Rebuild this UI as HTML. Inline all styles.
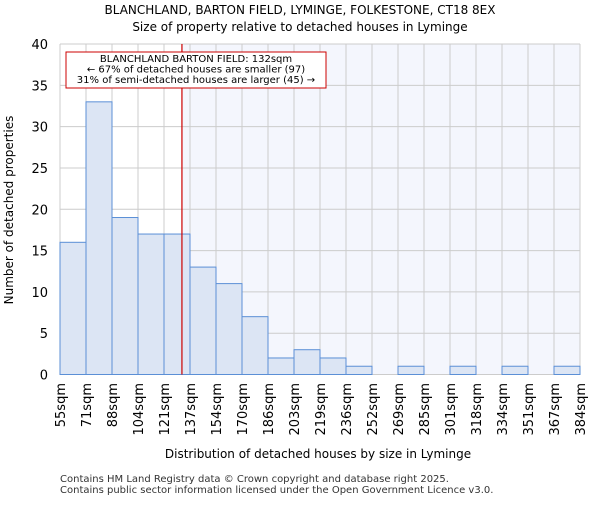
<!DOCTYPE html>
<html><head><meta charset="utf-8"><style>
body{margin:0;background:#fff;}
svg{font-family:"DejaVu Sans","Liberation Sans",sans-serif;}
</style></head><body>
<svg id="c" width="600" height="500" xmlns="http://www.w3.org/2000/svg">
<text x="300" y="14" text-anchor="middle" font-size="12">BLANCHLAND, BARTON FIELD, LYMINGE, FOLKESTONE, CT18 8EX</text>
<text x="300" y="31" text-anchor="middle" font-size="12">Size of property relative to detached houses in Lyminge</text>
<g id="plot"></g>
<text x="318" y="458" text-anchor="middle" font-size="12">Distribution of detached houses by size in Lyminge</text>
<text transform="translate(13,210) rotate(-90)" text-anchor="middle" font-size="12">Number of detached properties</text>
<text x="60" y="482" font-size="10" fill="#333">Contains HM Land Registry data © Crown copyright and database right 2025.</text>
<text x="60" y="493" font-size="10" fill="#333">Contains public sector information licensed under the Open Government Licence v3.0.</text>
</svg>
<script>
const categories=["55sqm","71sqm","88sqm","104sqm","121sqm","137sqm","154sqm","170sqm","186sqm","203sqm","219sqm","236sqm","252sqm","269sqm","285sqm","301sqm","318sqm","334sqm","351sqm","367sqm","384sqm"];
const counts=[16,33,19,17,17,13,11,7,2,3,2,1,0,1,0,1,0,1,0,1];
const yTicks=[0,5,10,15,20,25,30,35,40];
const markerBin=4.69;
const NS="http://www.w3.org/2000/svg";
const L=60,R=580,T=44,B=374.5,yMax=40;
const n=counts.length,bw=(R-L)/n;
const x=i=>L+i*bw, y=v=>B-(v/yMax)*(B-T);
const g=document.getElementById('plot');
function mk(t,a){const e=document.createElementNS(NS,t);for(const k in a)e.setAttribute(k,a[k]);g.appendChild(e);return e;}
const mx=x(markerBin);
let e=mk('rect',{x:mx,y:T,width:R-mx,height:B-T,fill:'#f4f6fd'});


for(let i=0;i<=n;i++){e=mk('line',{x1:x(i),x2:x(i),y1:T,y2:B,stroke:'#ccc','stroke-width':1});

}
yTicks.forEach(v=>{e=mk('line',{x1:L,x2:R,y1:y(v),y2:y(v),stroke:'#ccc','stroke-width':1});


e=mk('text',{x:L-12,y:y(v)+5,'text-anchor':'end','font-size':13});e.textContent=v;

});
counts.forEach((v,i)=>{if(v<=0)return;e=mk('rect',{x:x(i),y:y(v),width:bw,height:B-y(v),fill:'#dce5f4',stroke:'#5b8fd6','stroke-width':1});

});
categories.forEach((c,i)=>{e=mk('text',{transform:`translate(${x(i)+5},383) rotate(-90)`,'text-anchor':'end','font-size':13});e.textContent=c;

});
e=mk('line',{x1:mx,x2:mx,y1:T,y2:B,stroke:'#cc0000','stroke-width':1.2});


e=mk('rect',{x:66,y:52,width:260,height:36,fill:'#fff',stroke:'#cc0000','stroke-width':1});


["BLANCHLAND BARTON FIELD: 132sqm","← 67% of detached houses are smaller (97)","31% of semi-detached houses are larger (45) →"].forEach((t,i)=>{
e=mk('text',{x:196,y:62+i*10.5,'text-anchor':'middle','font-size':10});e.textContent=t;

});
</script>
</body></html>
